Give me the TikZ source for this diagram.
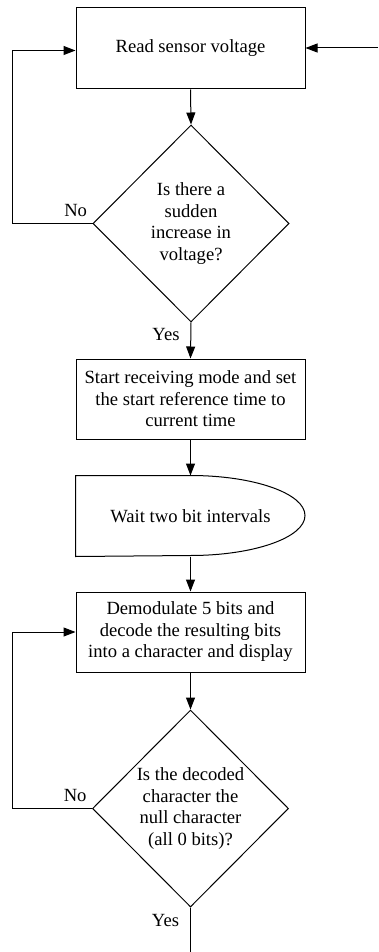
\documentclass[tikz,border=0pt]{standalone}
\usepackage{fontspec}
\setmainfont{Liberation Serif}
\usetikzlibrary{shapes.geometric,arrows.meta,positioning}
\begin{document}
\begin{tikzpicture}[x=1pt,y=-1pt,>={Triangle[length=12pt,width=9pt]},line width=1pt,
    font=\fontsize{18.6}{21.5}\selectfont,
    proc/.style={draw,rectangle,minimum width=229pt,minimum height=80pt,align=center,inner sep=0pt},
    decision/.style={draw,diamond,minimum width=196pt,minimum height=197pt,align=center,inner sep=0pt},
    delaybox/.style={rectangle,minimum width=229pt,minimum height=80pt,align=center,inner sep=0pt},
    lbl/.style={inner sep=0pt}]
    \useasboundingbox (0,0) rectangle (378,952);
    \coordinate (entry) at (378,48);
    \coordinate (loopx) at (12,0);
    \coordinate (exit) at (190.5,952);
    % Khối
    \node[proc,minimum height=81pt] (read) at (190.5,48.5) {Read sensor voltage};
    \node[decision] (sudden) at (191,223.5) {Is there a\\sudden\\increase in\\voltage?};
    \node[proc] (start) at (190.5,399) {Start receiving mode and set\\the start reference time to\\current time};
    \node[delaybox] (wait) at (190.5,516) {Wait two bit intervals};
    \draw (wait.north west) -- (wait.north) arc[start angle=90,end angle=-90,x radius=114.5pt,y radius=40pt] -- (wait.south west) -- cycle;
    \node[proc] (demod) at (190.5,632) {Demodulate 5 bits and\\decode the resulting bits\\into a character and display};
    \node[decision] (isnull) at (190.5,808.5) {Is the decoded\\character the\\null character\\(all 0 bits)?};
    % Mũi tên
    \draw[->] (entry) -- (entry -| read.east);
    \draw[->] (read.south) -- (sudden.north);
    \draw[->] (sudden.west) node[lbl,above left=6pt and 5pt]{No} -- (sudden.west -| loopx) |- ([yshift=-2pt]read.west);
    \draw[->] (sudden.south) node[lbl,below left=5pt and 11pt]{Yes} -- (start.north);
    \draw[->] (start.south) -- (wait.north);
    \draw[->] (wait.south) -- (demod.north);
    \draw[->] (demod.south) -- (isnull.north);
    \draw[->] (isnull.west) node[lbl,above left=6pt and 5pt]{No} -- (isnull.west -| loopx) |- (demod.west);
    \draw (isnull.south) node[lbl,below left=6pt and 11pt]{Yes} -- (exit);
\end{tikzpicture}
\end{document}
